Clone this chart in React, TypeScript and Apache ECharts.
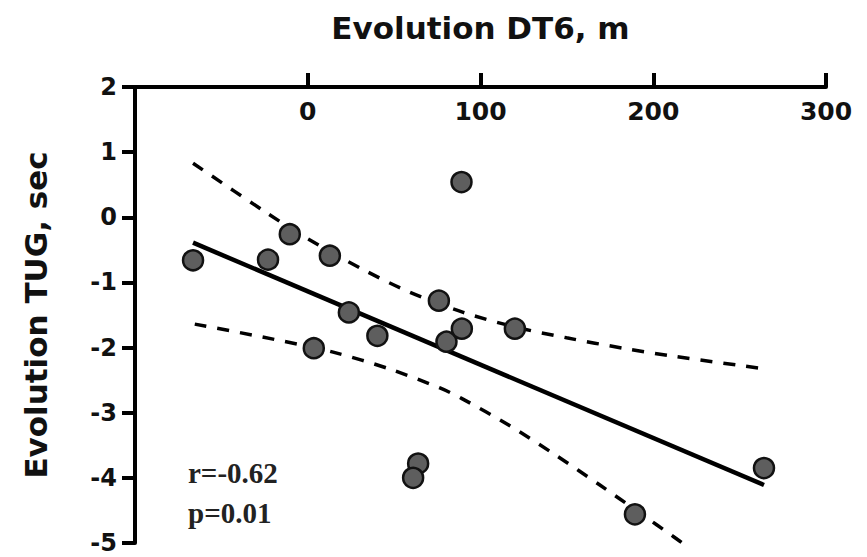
import React, { useEffect, useRef } from "react";
import * as echarts from "echarts";

// Scatter data (Evolution DT6 in m, Evolution TUG in sec)
const dt6 = [-66.4, -23.0, -10.4, 12.8, 23.8, 3.5, 40.3, 75.9, 80.3, 89.2, 89.0, 119.9, 63.9, 61.0, 189.4, 264.1];
const tug = [-0.66, -0.65, -0.26, -0.59, -1.46, -2.01, -1.82, -1.28, -1.91, -1.71, 0.54, -1.71, -3.78, -4.0, -4.56, -3.85];

// Regression line end points
const fitX = [-66.4, 264.1];
const fitY = [-0.39, -4.11];

// 95% confidence band
const upperX = [-66.4, -23.9, -0.7, 34.0, 59.1, 90.0, 120.9, 149.8, 182.6, 213.5, 262.8];
const upperY = [0.83, 0.07, -0.32, -0.83, -1.15, -1.46, -1.69, -1.85, -2.01, -2.14, -2.32];
const lowerX = [-65.4, -20.1, 14.7, 47.5, 76.5, 89.0, 117.0, 144.0, 169.1, 192.3, 211.6, 220.0];
const lowerY = [-1.64, -1.87, -2.07, -2.33, -2.62, -2.78, -3.2, -3.66, -4.11, -4.54, -4.9, -5.06];

const xTicks = [0, 100, 200, 300];
const stats = ["r=-0.62", "p=0.01"];

const zip = (a: number[], b: number[]) => a.map((v, i) => [v, b[i]]);

export default function App() {
  const ref = useRef<HTMLDivElement>(null);
  useEffect(() => {
    if (!ref.current) return;
    const chart = echarts.init(ref.current, undefined, { renderer: "svg" });
    const sans = "DejaVu Sans";
    chart.setOption({
      animation: false,
      backgroundColor: "#ffffff",
      grid: { left: 135, right: 41, top: 87, bottom: 14, containLabel: false },
      xAxis: {
        type: "value",
        position: "top",
        min: -100,
        max: 300,
        interval: 100,
        name: "Evolution DT6, m",
        nameLocation: "middle",
        nameGap: 44,
        nameTextStyle: { fontFamily: sans, fontWeight: "bold", fontSize: 31, color: "#111" },
        axisLine: { show: true, onZero: false, lineStyle: { color: "#000", width: 4 } },
        axisTick: { show: true, inside: false, length: 14, lineStyle: { color: "#000", width: 4 }, customValues: xTicks },
        axisLabel: {
          inside: true,
          margin: 12,
          fontFamily: sans,
          fontWeight: "bold",
          fontSize: 25,
          color: "#111",
          customValues: xTicks,
        },
        splitLine: { show: false },
      },
      yAxis: {
        type: "value",
        position: "left",
        min: -5,
        max: 2,
        interval: 1,
        name: "Evolution TUG, sec",
        nameLocation: "middle",
        nameGap: 84,
        nameRotate: 90,
        nameTextStyle: { fontFamily: sans, fontWeight: "bold", fontSize: 31, color: "#111" },
        axisLine: { show: true, onZero: false, lineStyle: { color: "#000", width: 4 } },
        axisTick: { show: true, inside: false, length: 13, lineStyle: { color: "#000", width: 4 } },
        axisLabel: { margin: 18, fontFamily: sans, fontWeight: "bold", fontSize: 24, color: "#111" },
        splitLine: { show: false },
      },
      graphic: [
        {
          type: "text",
          x: 188,
          y: 473,
          style: {
            text: stats[0],
            fontFamily: "Liberation Serif",
            fontWeight: "bold",
            fontSize: 29,
            fill: "#222",
            verticalAlign: "middle",
          },
        },
        {
          type: "text",
          x: 188,
          y: 513,
          style: {
            text: stats[1],
            fontFamily: "Liberation Serif",
            fontWeight: "bold",
            fontSize: 29,
            fill: "#222",
            verticalAlign: "middle",
          },
        },
      ],
      series: [
        {
          type: "line",
          data: zip(upperX, upperY),
          showSymbol: false,
          smooth: 0.3,
          lineStyle: { color: "#000", width: 3.5, type: [12, 11] },
          z: 2,
        },
        {
          type: "line",
          data: zip(lowerX, lowerY),
          showSymbol: false,
          smooth: 0.3,
          lineStyle: { color: "#000", width: 3.5, type: [12, 11] },
          z: 2,
        },
        {
          type: "line",
          data: zip(fitX, fitY),
          showSymbol: false,
          lineStyle: { color: "#000", width: 4.5 },
          z: 3,
        },
        {
          type: "scatter",
          data: zip(dt6, tug),
          symbol: "circle",
          symbolSize: 20,
          itemStyle: { color: "#5e5e5e", borderColor: "#121212", borderWidth: 2.5, opacity: 1 },
          z: 4,
        },
      ],
    });
    return () => chart.dispose();
  }, []);
  return (
    <div
      ref={ref}
      style={{ position: "fixed", left: 0, top: 0, width: 867, height: 557, background: "#fff" }}
    />
  );
}
